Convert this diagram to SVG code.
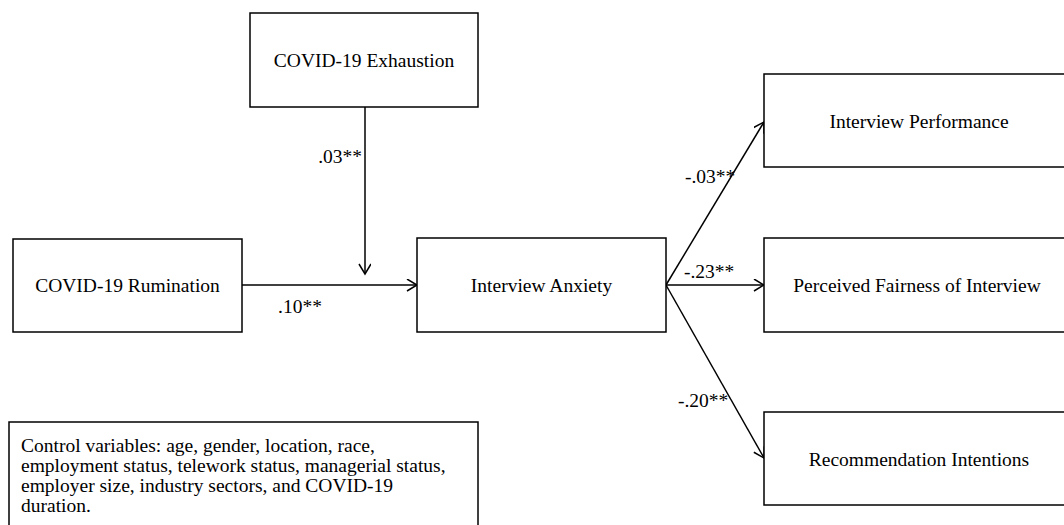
<svg xmlns="http://www.w3.org/2000/svg" width="1064" height="525" viewBox="0 0 1064 525">
<style>
  .box { fill: #ffffff; stroke: #000000; stroke-width: 1.5; }
  .lbl { font-family: "Liberation Serif", "Times New Roman", serif; font-size: 19.5px; fill: #000000; }
  .mid { text-anchor: middle; }
  .wire { stroke: #000000; stroke-width: 1.5; fill: none; marker-end: url(#arr); }
</style>
<defs>
  <marker id="arr" markerWidth="14" markerHeight="14" refX="11" refY="6" orient="auto" markerUnits="userSpaceOnUse">
    <path d="M1,0 L11,6 L1,12" fill="none" stroke="#000000" stroke-width="1.5"/>
  </marker>
</defs>
<rect width="1064" height="525" fill="#ffffff"/>
<g id="connectors">
  <line class="wire" x1="365" y1="107" x2="365" y2="274"/>
  <line class="wire" x1="242" y1="285" x2="417" y2="285"/>
  <line class="wire" x1="666" y1="285" x2="764" y2="285"/>
  <line class="wire" x1="666" y1="285" x2="764" y2="122"/>
  <line class="wire" x1="666" y1="285" x2="764" y2="458"/>
  <text class="lbl" x="362" y="163" text-anchor="end">.03**</text>
  <text class="lbl" x="278" y="313">.10**</text>
  <text class="lbl" x="684" y="278">-.23**</text>
  <text class="lbl" x="685" y="183">-.03**</text>
  <text class="lbl" x="678" y="407">-.20**</text>
</g>
<g id="exhaustion">
  <rect class="box" x="250" y="13" width="228" height="94"/>
  <text class="lbl mid" x="364" y="67">COVID-19 Exhaustion</text>
</g>
<g id="rumination">
  <rect class="box" x="13" y="239" width="229" height="93"/>
  <text class="lbl mid" x="127.5" y="292">COVID-19 Rumination</text>
</g>
<g id="anxiety">
  <rect class="box" x="417" y="238" width="249" height="94"/>
  <text class="lbl mid" x="541.5" y="292">Interview Anxiety</text>
</g>
<g id="performance">
  <rect class="box" x="764" y="74" width="310" height="93"/>
  <text class="lbl mid" x="919" y="128">Interview Performance</text>
</g>
<g id="fairness">
  <rect class="box" x="764" y="238" width="310" height="94"/>
  <text class="lbl mid" x="917" y="292">Perceived Fairness of Interview</text>
</g>
<g id="recommendation">
  <rect class="box" x="764" y="412" width="310" height="93"/>
  <text class="lbl mid" x="919" y="466">Recommendation Intentions</text>
</g>
<g id="controls">
  <rect class="box" x="9" y="422" width="469" height="110"/>
  <text class="lbl" x="21" y="452">Control variables: age, gender, location, race,</text>
  <text class="lbl" x="21" y="472">employment status, telework status, managerial status,</text>
  <text class="lbl" x="21" y="492">employer size, industry sectors, and COVID-19</text>
  <text class="lbl" x="21" y="512">duration.</text>
</g>
</svg>
